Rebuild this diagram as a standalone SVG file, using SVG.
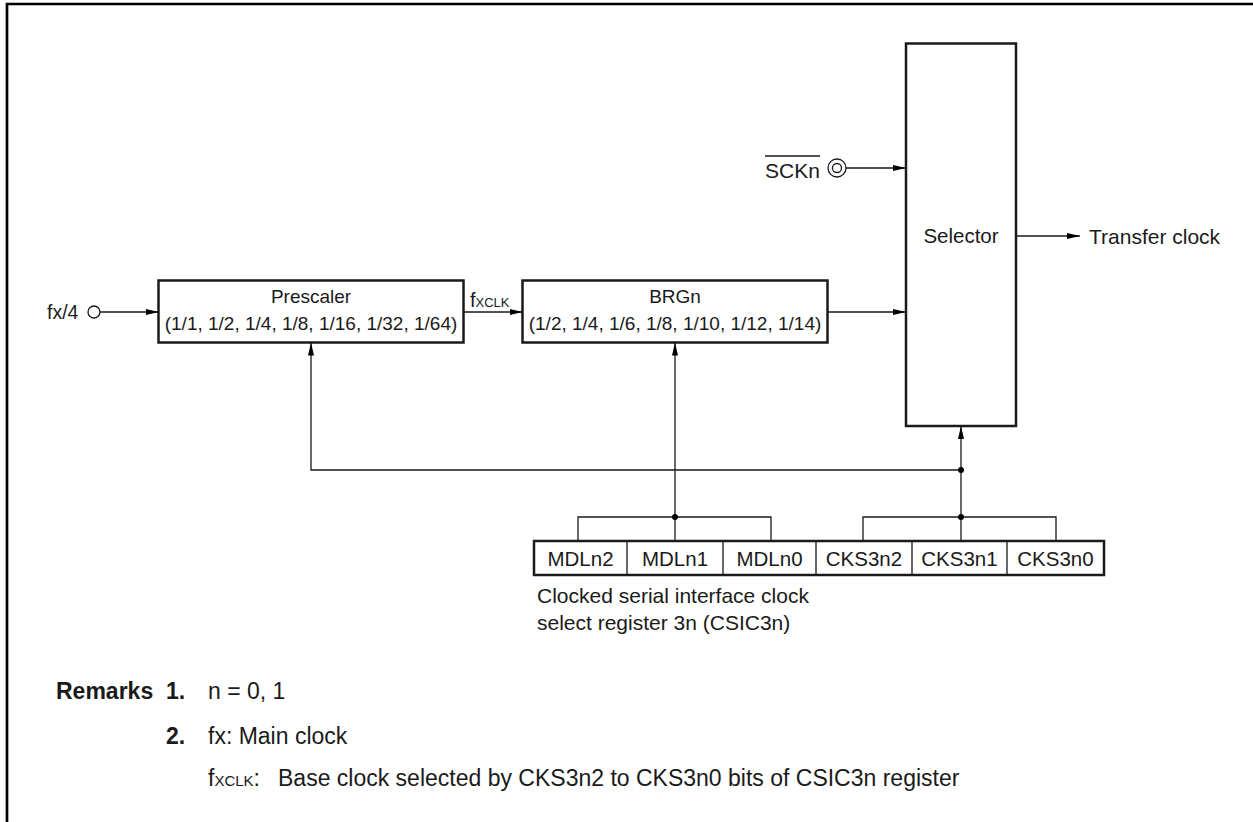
<svg xmlns="http://www.w3.org/2000/svg" width="1253" height="822" viewBox="0 0 1253 822">
<style>
text{font-family:"Liberation Sans",Arial,sans-serif;font-size:19px;fill:#1a1a1a}
.c{text-anchor:middle}
.b{font-weight:bold}
.lb{font-size:21px}
.rg{font-size:20.5px}
.rm{font-size:23px}
.sm{font-size:13px}
.sm2{font-size:15px}
.box{fill:#fff;stroke:#1a1a1a;stroke-width:2.5}
.reg{fill:#fff;stroke:#1a1a1a;stroke-width:2.5}
.div{stroke:#1a1a1a;stroke-width:1.3;fill:none}
.w{stroke:#1a1a1a;stroke-width:1.3;fill:none}
.wa{stroke:#1a1a1a;stroke-width:1.3;fill:none;marker-end:url(#arr)}
.dot{fill:#000}
</style>
<defs>
<marker id="arr" markerWidth="14" markerHeight="6" refX="13" refY="3" orient="auto" markerUnits="userSpaceOnUse"><path d="M0,0 L13,3 L0,6 z" fill="#000"/></marker>
</defs>
<rect width="1253" height="822" fill="#fff"/>
<path d="M7,830 V4 H1260" fill="none" stroke="#000" stroke-width="2.7"/>

<g id="fx4">
<text x="47" y="319" style="font-size:19.5px">fx/4</text>
<circle cx="94" cy="312" r="6" fill="#fff" stroke="#1a1a1a" stroke-width="1.3"/>
</g>
<g id="prescaler">
<rect class="box" x="158.5" y="280.5" width="305" height="62"/>
<text class="c" x="311" y="303">Prescaler</text>
<text class="c" x="311" y="330">(1/1, 1/2, 1/4, 1/8, 1/16, 1/32, 1/64)</text>
</g>
<g id="fxclk">
<text x="470" y="306.5" style="font-size:20px">f<tspan class="sm">XCLK</tspan></text>
</g>
<g id="brgn">
<rect class="box" x="522.5" y="280.5" width="305" height="62"/>
<text class="c" x="675" y="303">BRGn</text>
<text class="c" x="675" y="330">(1/2, 1/4, 1/6, 1/8, 1/10, 1/12, 1/14)</text>
</g>
<g id="sckn">
<text class="lb" x="765" y="178">SCKn</text>
<line x1="765" y1="156" x2="820" y2="156" stroke="#1a1a1a" stroke-width="1.3"/>
<circle cx="837" cy="168" r="9" fill="#fff" stroke="#1a1a1a" stroke-width="1.3"/>
<circle cx="837" cy="168" r="4.5" fill="#fff" stroke="#1a1a1a" stroke-width="1.3"/>
</g>
<g id="selector">
<rect class="box" x="906" y="43.5" width="110" height="382.5"/>
<text class="c rg" x="961" y="243">Selector</text>
</g>
<g id="transfer">
<text class="lb" x="1089" y="244">Transfer clock</text>
</g>
<g id="register">
<rect class="reg" x="534" y="541" width="570" height="34"/>
<path class="div" d="M627,541V575 M723,541V575 M816,541V575 M912,541V575 M1007,541V575"/>
<text class="c rg" x="580.5" y="566">MDLn2</text>
<text class="c rg" x="675" y="566">MDLn1</text>
<text class="c rg" x="769.5" y="566">MDLn0</text>
<text class="c rg" x="864" y="566">CKS3n2</text>
<text class="c rg" x="959.5" y="566">CKS3n1</text>
<text class="c rg" x="1055.5" y="566">CKS3n0</text>
<text class="lb" x="537" y="603">Clocked serial interface clock</text>
<text class="lb" x="537" y="630">select register 3n (CSIC3n)</text>
</g>
<g id="connectors">
<line class="wa" x1="100" y1="312" x2="158.5" y2="312"/>
<line class="wa" x1="463.5" y1="312" x2="522.5" y2="312"/>
<line class="wa" x1="827.5" y1="312" x2="906" y2="312"/>
<line class="wa" x1="846" y1="168" x2="906" y2="168"/>
<line class="wa" x1="1016" y1="236" x2="1080" y2="236"/>
<line class="wa" x1="675" y1="541" x2="675" y2="342.5"/>
<line class="wa" x1="961" y1="541" x2="961" y2="426"/>
<path class="wa" d="M961,470 H311 V342.5"/>
<path class="w" d="M578,541 V517 H771 V541"/>
<path class="w" d="M863,541 V517 H1056 V541"/>
<circle class="dot" cx="675" cy="517" r="3"/>
<circle class="dot" cx="961" cy="517" r="3"/>
<circle class="dot" cx="961" cy="470" r="3"/>
</g>
<g id="remarks">
<text class="b rm" x="56" y="699">Remarks</text>
<text class="b rm" x="166" y="699">1.</text>
<text class="rm" x="208" y="699">n = 0, 1</text>
<text class="b rm" x="166" y="744">2.</text>
<text class="rm" x="208" y="744">fx: Main clock</text>
<text class="rm" x="208" y="786">f<tspan class="sm2">XCLK</tspan>:</text>
<text class="rm" x="278" y="786">Base clock selected by CKS3n2 to CKS3n0 bits of CSIC3n register</text>
</g>
</svg>
